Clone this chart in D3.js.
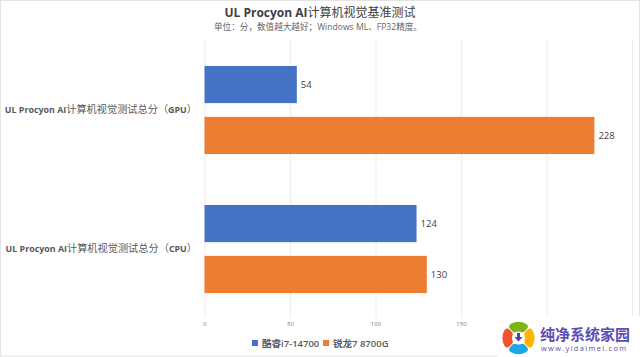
<!DOCTYPE html>
<html>
<head>
<meta charset="utf-8">
<script src="https://cdn.jsdelivr.net/npm/d3@7"></script>
<style>
html, body { margin: 0; padding: 0; background: #fff; }
text { font-family: "Open Sans", "Noto Sans CJK SC", sans-serif; }
.thin { font-weight: 400; font-family: "Noto Sans CJK SC", sans-serif; }
.cat-cjk { font-size: 10.2px; }
</style>
</head>
<body>
<svg id="chart" width="640" height="357"></svg>
<script>
// Chart values
const categories = ['GPU', 'CPU'];
const categoryPrefix = 'UL Procyon AI';
const categoryMiddle = '计算机视觉测试总分（';
const seriesNames = ['酷睿i7-14700', '锐龙7 8700G'];
const intelValues = [54, 124];
const amdValues = [228, 130];
const xTicks = [0, 50, 100, 150, 200, 250];
const labelledTicks = [0, 50, 100, 150];
const seriesColors = ['#4472C4', '#ED7D31'];

const svg = d3.select('#chart');

// Chart frame
svg.append('rect')
    .attr('x', 0.5).attr('y', 0.5)
    .attr('width', 639).attr('height', 355.5)
    .attr('fill', '#fff')
    .attr('stroke', '#e4e4e4');

// Scales
const xScale = d3.scaleLinear().domain([0, 250]).range([204.5, 632]);
const yGroup = d3.scaleBand().domain(categories).range([40.5, 318.5]);
const yBar = d3.scaleBand().domain([0, 1]).range([0, yGroup.bandwidth()]).paddingInner(0.27).paddingOuter(0.5);

// Grid and axis
const xAxis = svg.append('g')
    .attr('transform', 'translate(0,318)')
    .call(d3.axisBottom(xScale)
        .tickValues(xTicks)
        .tickSize(-278)
        .tickFormat(d => labelledTicks.includes(d) ? d : ''));
xAxis.select('.domain').remove();
xAxis.selectAll('.tick line').attr('stroke', '#ececec');
xAxis.selectAll('.tick text')
    .attr('y', 4)
    .attr('fill', '#777')
    .style('font-size', '6px');

// Bars
const series = [intelValues, amdValues];
series.forEach((values, s) => {
    svg.append('g').selectAll('rect')
        .data(values)
        .enter().append('rect')
        .attr('x', xScale(0))
        .attr('y', (d, i) => yGroup(categories[i]) + yBar(s))
        .attr('width', d => xScale(d) - xScale(0))
        .attr('height', yBar.bandwidth())
        .attr('fill', seriesColors[s]);

    svg.append('g').selectAll('text')
        .data(values)
        .enter().append('text')
        .attr('x', d => xScale(d) + 4)
        .attr('y', (d, i) => yGroup(categories[i]) + yBar(s) + yBar.bandwidth() / 2)
        .attr('dy', '0.35em')
        .attr('fill', '#404040')
        .style('font-size', '9.5px')
        .text(d => d);
});

// Category labels, latin part bold and chinese part light like the original
const catLabels = svg.append('g').selectAll('text')
    .data(categories)
    .enter().append('text')
    .attr('x', 197)
    .attr('y', d => yGroup(d) + yGroup.bandwidth() / 2)
    .attr('dy', '0.35em')
    .attr('text-anchor', 'end')
    .attr('fill', '#595959')
    .style('font-size', '8.9px')
    .style('font-weight', 700);
catLabels.append('tspan').text(categoryPrefix);
catLabels.append('tspan').attr('class', 'thin cat-cjk').text(categoryMiddle);
catLabels.append('tspan').text(d => d);
catLabels.append('tspan').attr('class', 'thin cat-cjk').text('）');

// Title
const title = svg.append('text')
    .attr('x', 320).attr('y', 17)
    .attr('text-anchor', 'middle')
    .attr('fill', '#404040')
    .style('font-size', '12px')
    .style('font-weight', 700);
title.append('tspan').text('UL Procyon AI');
title.append('tspan').attr('class', 'thin').text('计算机视觉基准测试');

svg.append('text')
    .attr('x', 318).attr('y', 30)
    .attr('text-anchor', 'middle')
    .attr('fill', '#666')
    .style('font-size', '8.6px')
    .text('单位：分，数值越大越好；Windows ML、FP32精度。');

// Legend
const legendX = [252, 323];
seriesNames.forEach((name, s) => {
    svg.append('rect')
        .attr('x', legendX[s]).attr('y', 340)
        .attr('width', 6).attr('height', 6)
        .attr('fill', seriesColors[s]);
    svg.append('text')
        .attr('x', legendX[s] + 10).attr('y', 346.5)
        .attr('fill', '#595959')
        .style('font-size', '9.5px')
        .style('font-weight', 600)
        .text(name);
});

// Site badge in the corner
const badge = svg.append('g');
badge.append('rect').attr('x', 498).attr('y', 316).attr('width', 142).attr('height', 41).attr('fill', '#fff');
const petal = d3.arc().innerRadius(6.5).outerRadius(16).cornerRadius(3).padAngle(0.05);
['#7CB518', '#FFB400', '#1EA7E8', '#F0542D'].forEach((color, i) => {
    badge.append('path')
        .attr('transform', 'translate(518.5,338)')
        .attr('d', petal({ startAngle: (i - 0.5) * Math.PI / 2, endAngle: (i + 0.5) * Math.PI / 2 }))
        .attr('fill', color);
});
badge.append('path')
    .attr('d', 'M517,333h3v4h2.5l-4,4.5l-4,-4.5h2.5z')
    .attr('fill', '#4B3FA8');
badge.append('text')
    .attr('x', 540).attr('y', 340)
    .attr('fill', '#5B4DB2')
    .style('font-size', '15px')
    .style('font-weight', 700)
    .text('纯净系统家园');
badge.append('text')
    .attr('x', 541).attr('y', 351)
    .attr('fill', '#5B4DB2')
    .style('font-size', '7.5px')
    .style('letter-spacing', '1.3px')
    .text('www.yidaimei.com');
</script>
</body>
</html>
